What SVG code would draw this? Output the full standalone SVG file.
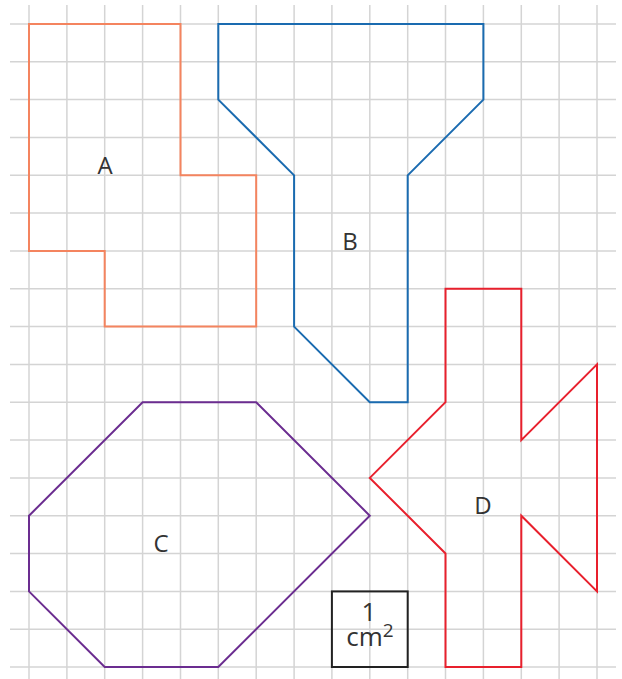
<svg xmlns="http://www.w3.org/2000/svg" width="622" height="679" viewBox="0 0 622 679">
<style>
.grid line{stroke:#d4d4d4;stroke-width:1.5}
.shape{fill:none;stroke-width:2;stroke-linejoin:miter}
.lbl{font-family:"Open Sans","Noto Sans",sans-serif;font-size:24px;fill:#333;text-anchor:middle}
.u{font-size:26px}
</style>
<rect width="622" height="679" fill="#fff"/>
<g class="grid" id="grid">
<line x1="29" y1="5" x2="29" y2="679"/><line x1="66.9" y1="5" x2="66.9" y2="679"/><line x1="104.7" y1="5" x2="104.7" y2="679"/><line x1="142.6" y1="5" x2="142.6" y2="679"/><line x1="180.5" y1="5" x2="180.5" y2="679"/><line x1="218.3" y1="5" x2="218.3" y2="679"/><line x1="256.2" y1="5" x2="256.2" y2="679"/><line x1="294.1" y1="5" x2="294.1" y2="679"/><line x1="331.9" y1="5" x2="331.9" y2="679"/><line x1="369.8" y1="5" x2="369.8" y2="679"/><line x1="407.7" y1="5" x2="407.7" y2="679"/><line x1="445.5" y1="5" x2="445.5" y2="679"/><line x1="483.4" y1="5" x2="483.4" y2="679"/><line x1="521.3" y1="5" x2="521.3" y2="679"/><line x1="559.1" y1="5" x2="559.1" y2="679"/><line x1="597" y1="5" x2="597" y2="679"/>
<line x1="10" y1="24" x2="616" y2="24"/><line x1="10" y1="61.8" x2="616" y2="61.8"/><line x1="10" y1="99.6" x2="616" y2="99.6"/><line x1="10" y1="137.5" x2="616" y2="137.5"/><line x1="10" y1="175.3" x2="616" y2="175.3"/><line x1="10" y1="213.1" x2="616" y2="213.1"/><line x1="10" y1="250.9" x2="616" y2="250.9"/><line x1="10" y1="288.8" x2="616" y2="288.8"/><line x1="10" y1="326.6" x2="616" y2="326.6"/><line x1="10" y1="364.4" x2="616" y2="364.4"/><line x1="10" y1="402.2" x2="616" y2="402.2"/><line x1="10" y1="440.1" x2="616" y2="440.1"/><line x1="10" y1="477.9" x2="616" y2="477.9"/><line x1="10" y1="515.7" x2="616" y2="515.7"/><line x1="10" y1="553.5" x2="616" y2="553.5"/><line x1="10" y1="591.4" x2="616" y2="591.4"/><line x1="10" y1="629.2" x2="616" y2="629.2"/><line x1="10" y1="667" x2="616" y2="667"/>
</g>
<g id="A">
<polygon class="shape" stroke="#f4845f" points="29,24 180.5,24 180.5,175.3 256.2,175.3 256.2,326.6 104.7,326.6 104.7,250.9 29,250.9"/>
<text class="lbl" x="105" y="174">A</text>
</g>
<g id="B">
<polygon class="shape" stroke="#1a6bb0" points="218.3,24 483.4,24 483.4,99.6 407.7,175.3 407.7,402.2 369.8,402.2 294.1,326.6 294.1,175.3 218.3,99.6"/>
<text class="lbl" x="350" y="250">B</text>
</g>
<g id="C">
<polygon class="shape" stroke="#6b2d90" points="142.6,402.2 256.2,402.2 369.8,515.7 218.3,667 104.7,667 29,591.4 29,515.7"/>
<text class="lbl" x="161" y="552">C</text>
</g>
<g id="D">
<polygon class="shape" stroke="#e8202d" points="445.5,288.8 521.3,288.8 521.3,440.1 597,364.4 597,591.4 521.3,515.7 521.3,667 445.5,667 445.5,553.5 369.8,477.9 445.5,402.2"/>
<text class="lbl" x="483" y="514">D</text>
</g>
<g id="unit">
<rect x="331.9" y="591.4" width="75.8" height="75.6" fill="none" stroke="#222" stroke-width="2"/>
<text class="lbl u" x="369" y="621">1</text>
<text class="lbl u" x="370" y="646">cm<tspan dy="-9" font-size="19">2</tspan></text>
</g>
</svg>
